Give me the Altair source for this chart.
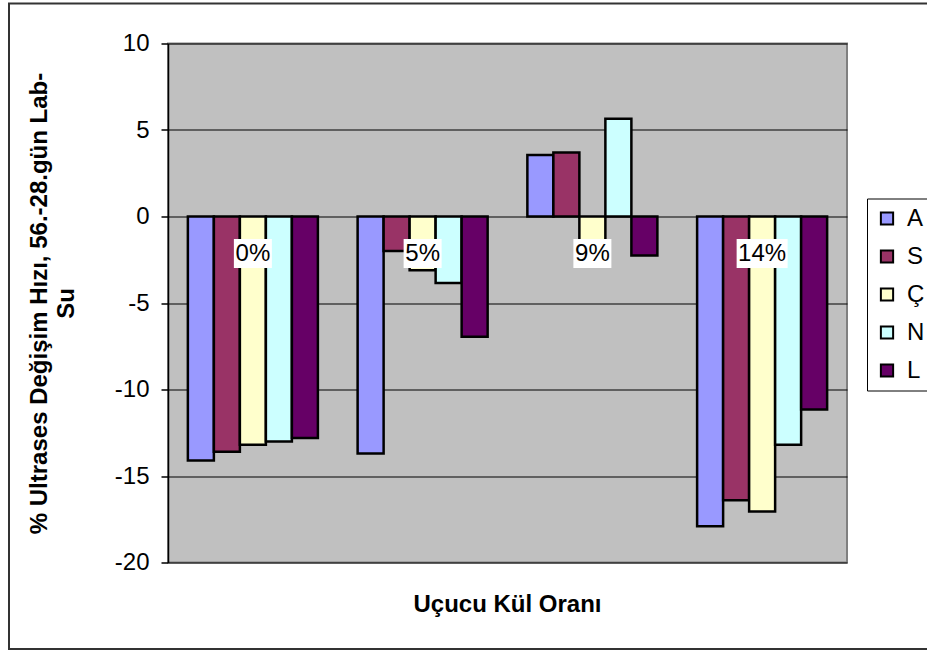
import altair as alt
import pandas as pd

# Fly-ash ratios (categories) and the five series
categories = ["0%", "5%", "9%", "14%"]
series = ["A", "S", "Ç", "N", "L"]
colors = ["#9999FF", "#993366", "#FFFFCC", "#CCFFFF", "#660066"]

# % change rate of ultrasonic velocity, 56-28 days, per series
vals_A = [-14.1, -13.7, 3.55, -17.9]
vals_S = [-13.6, -2.0, 3.7, -16.4]
vals_C = [-13.2, -3.1, -1.6, -17.05]
vals_N = [-13.0, -3.85, 5.65, -13.2]
vals_L = [-12.8, -6.95, -2.25, -11.15]

y_ticks = [-20, -15, -10, -5, 0, 5, 10]
x_title = "Uçucu Kül Oranı"
y_title = ["% Ultrases Değişim Hızı, 56.-28.gün Lab-", "Su"]

rows = []
for s, vals in zip(series, [vals_A, vals_S, vals_C, vals_N, vals_L]):
    for c, v in zip(categories, vals):
        rows.append({"kategori": c, "seri": s, "deger": v})
df = pd.DataFrame(rows)
labels_df = pd.DataFrame({"kategori": categories})

FONT = "Liberation Sans"
W, H = 679, 519
Y_MIN, Y_MAX = -20, 10
# move the category axis line up to the zero level
zero_offset = H * Y_MAX / (Y_MAX - Y_MIN) - H

x_scale = alt.Scale(domain=categories, paddingInner=0, paddingOuter=0)
y_scale = alt.Scale(domain=[Y_MIN, Y_MAX], nice=False, zero=True)

bars = alt.Chart(df).mark_bar(stroke="black", strokeWidth=2.5).encode(
    x=alt.X(
        "kategori:N",
        sort=categories,
        scale=x_scale,
        axis=alt.Axis(
            title=None,
            labels=False,
            tickBand="extent",
            tickSize=7,
            tickColor="black",
            tickWidth=1.5,
            domainColor="black",
            domainWidth=1.5,
            offset=zero_offset,
        ),
    ),
    xOffset=alt.XOffset(
        "seri:N",
        sort=series,
        scale=alt.Scale(domain=series, paddingInner=0, paddingOuter=0.764),
    ),
    y=alt.Y(
        "deger:Q",
        scale=y_scale,
        axis=alt.Axis(
            values=y_ticks,
            labelExpr="toString(datum.value)",
            title=y_title,
            titleFont=FONT,
            titleFontSize=24,
            titleFontWeight="bold",
            titleColor="black",
            titleAngle=270,
            titleAlign="center",
            titleBaseline="middle",
            titleX=-129,
            titleY=H / 2,
            titleLineHeight=27,
            labelFont=FONT,
            labelFontSize=24,
            labelColor="black",
            labelPadding=12,
            tickSize=7,
            tickColor="black",
            tickWidth=1.5,
            domainColor="black",
            domainWidth=1.5,
            grid=True,
            gridColor="black",
            gridWidth=1,
        ),
    ),
    color=alt.Color(
        "seri:N",
        sort=series,
        scale=alt.Scale(domain=series, range=colors),
        legend=alt.Legend(
            title=None,
            orient="none",
            legendX=699,
            legendY=155,
            symbolType="square",
            symbolSize=150,
            symbolStrokeColor="black",
            symbolStrokeWidth=2,
            symbolOpacity=1,
            labelFont=FONT,
            labelFontSize=24,
            labelColor="black",
            labelOffset=8,
            rowPadding=14,
            padding=8,
            strokeColor="black",
            fillColor="white",
        ),
    ),
)

# white boxes behind the category labels
label_boxes = alt.Chart(labels_df).transform_calculate(
    w="length(datum.kategori) * 13 + 12"
).mark_bar(color="white").encode(
    x=alt.X("kategori:N", sort=categories, scale=x_scale, axis=None),
    y=alt.value(195.5),
    y2=alt.value(224.5),
    size=alt.Size("w:Q", scale=None, legend=None),
)

label_text = alt.Chart(labels_df).mark_text(
    font=FONT, fontSize=24, baseline="middle", align="center", color="black"
).encode(
    x=alt.X("kategori:N", sort=categories, scale=x_scale, axis=None),
    y=alt.value(210),
    text="kategori:N",
)

# category axis title below the plot
x_title_text = alt.Chart(pd.DataFrame({"t": [x_title]})).mark_text(
    font=FONT, fontSize=24, fontWeight="bold", baseline="middle", align="center", color="black"
).encode(
    x=alt.value(W / 2),
    y=alt.value(561.5),
    text="t:N",
)

# outer chart frame
frame = alt.Chart(pd.DataFrame({"k": [0]})).mark_rect(
    fill="transparent", stroke="#333333", strokeWidth=2
).encode(
    x=alt.value(-159),
    x2=alt.value(765),
    y=alt.value(-40),
    y2=alt.value(605.5),
)

chart = alt.layer(frame, bars, label_boxes, label_text, x_title_text).properties(
    width=W,
    height=H,
    padding={"left": 168, "top": 43.5, "right": 927 - 168 - W, "bottom": 651 - 43.5 - H},
    autosize=alt.AutoSizeParams(type="none"),
    background="white",
).configure(font=FONT).configure_view(
    fill="#C0C0C0", stroke="#808080", strokeWidth=2
)

chart.save("out.html", embed_options={"renderer": "svg", "actions": False})
